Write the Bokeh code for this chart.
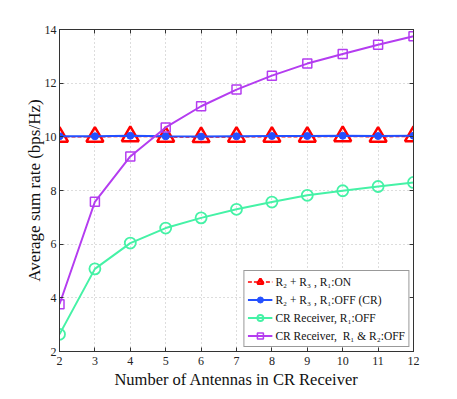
from bokeh.plotting import figure
from bokeh.models import LinearAxis, Legend, LegendItem, FixedTicker, Range1d
from bokeh.embed import file_html
from bokeh.resources import INLINE

antennas = [2, 3, 4, 5, 6, 7, 8, 9, 10, 11, 12]
r23_on = [10.0, 10.0, 10.02, 10.0, 9.99, 10.0, 10.0, 10.0, 10.02, 10.0, 10.02]
r23_off_cr = [10.02, 10.02, 10.04, 10.02, 10.01, 10.02, 10.03, 10.03, 10.04, 10.03, 10.04]
cr_r1_off = [2.64, 5.08, 6.04, 6.6, 6.98, 7.3, 7.57, 7.82, 7.99, 8.15, 8.3]
cr_r1r2_off = [3.76, 7.58, 9.27, 10.35, 11.14, 11.76, 12.28, 12.73, 13.09, 13.43, 13.75]

x_ticks = [2, 3, 4, 5, 6, 7, 8, 9, 10, 11, 12]
y_ticks = [2, 4, 6, 8, 10, 12, 14]

labels = ["R\u2082 + R\u2083 , R\u2081:ON",
          "R\u2082 + R\u2083 , R\u2081:OFF (CR)",
          "CR Receiver, R\u2081:OFF",
          "CR Receiver,  R\u2081 & R\u2082:OFF"]

FONT = "Liberation Serif"
AX = "#333333"

p = figure(width=449, height=391, output_backend="svg", toolbar_location=None,
           x_range=Range1d(2, 12), y_range=Range1d(2, 14),
           min_border_left=59, min_border_right=36, min_border_top=29, min_border_bottom=37)
p.background_fill_color = "white"
p.border_fill_color = "white"
p.outline_line_color = AX
p.outline_line_width = 1

for ax in (p.xaxis[0], p.yaxis[0]):
    ax.axis_line_color = AX
    ax.major_tick_line_color = AX
    ax.major_tick_in = 4
    ax.major_tick_out = 0
    ax.minor_tick_line_color = None
    ax.major_label_text_font = FONT
    ax.major_label_text_font_size = "12px"
    ax.major_label_text_color = "#222222"
    ax.axis_label_text_font = FONT
    ax.axis_label_text_font_style = "normal"
    ax.axis_label_text_color = "#111111"

p.xaxis[0].axis_label_text_font_size = "16.5px"
p.yaxis[0].axis_label_text_font_size = "17px"
p.xaxis[0].ticker = FixedTicker(ticks=x_ticks)
p.yaxis[0].ticker = FixedTicker(ticks=y_ticks)
p.xaxis[0].axis_label = "Number of Antennas in CR Receiver"
p.yaxis[0].axis_label = "Average sum rate (bps/Hz)"
p.xaxis[0].major_label_standoff = 5
p.yaxis[0].major_label_standoff = 3
p.xaxis[0].axis_label_standoff = 2
p.yaxis[0].axis_label_standoff = -2

for loc, ticks in (("right", y_ticks), ("above", x_ticks)):
    a = LinearAxis(ticker=FixedTicker(ticks=ticks),
                   major_label_overrides={t: "" for t in ticks})
    a.axis_line_color = AX
    a.major_tick_line_color = AX
    a.major_tick_in = 4
    a.major_tick_out = 0
    a.minor_tick_line_color = None
    a.major_label_standoff = 0
    p.add_layout(a, loc)

p.xgrid.ticker = FixedTicker(ticks=x_ticks)
p.ygrid.ticker = FixedTicker(ticks=y_ticks)
for g in (p.xgrid[0], p.ygrid[0]):
    g.grid_line_color = "#bbbbbb"
    g.grid_line_dash = "1 3"
    g.grid_line_width = 1

RED = "#ff0000"
BLUE = "#2450ff"
GREEN = "#45f2a6"
PURPLE = "#b43cf0"

l1 = p.line(antennas, r23_on, line_color=RED, line_width=1.5, line_dash="4 2")
m1 = p.scatter(antennas, r23_on, marker="triangle", size=17, fill_color=None,
               line_color=RED, line_width=2.5)
l2 = p.line(antennas, r23_off_cr, line_color=BLUE, line_width=2)
m2 = p.scatter(antennas, r23_off_cr, marker="circle", size=7, fill_color=BLUE,
               line_color=BLUE)
l3 = p.line(antennas, cr_r1_off, line_color=GREEN, line_width=2)
m3 = p.scatter(antennas, cr_r1_off, marker="circle", size=11, fill_color=None,
               line_color=GREEN, line_width=1.8)
l4 = p.line(antennas, cr_r1r2_off, line_color=PURPLE, line_width=2)
m4 = p.scatter(antennas, cr_r1r2_off, marker="square", size=9, fill_color=None,
               line_color=PURPLE, line_width=1.5)

legend = Legend(items=[LegendItem(label=labels[0], renderers=[l1, m1]),
                       LegendItem(label=labels[1], renderers=[l2, m2]),
                       LegendItem(label=labels[2], renderers=[l3, m3]),
                       LegendItem(label=labels[3], renderers=[l4, m4])],
                location="bottom_right")
legend.label_text_font = FONT
legend.label_text_font_size = "11.5px"
legend.label_text_color = "#111111"
legend.border_line_color = AX
legend.border_line_width = 1
legend.background_fill_color = "white"
legend.background_fill_alpha = 1
legend.glyph_width = 25
legend.glyph_height = 15
legend.label_height = 15
legend.spacing = 3
legend.padding = 3
legend.margin = 4
legend.label_standoff = 3
p.add_layout(legend)

open("out.html", "w").write(file_html(p, INLINE))
